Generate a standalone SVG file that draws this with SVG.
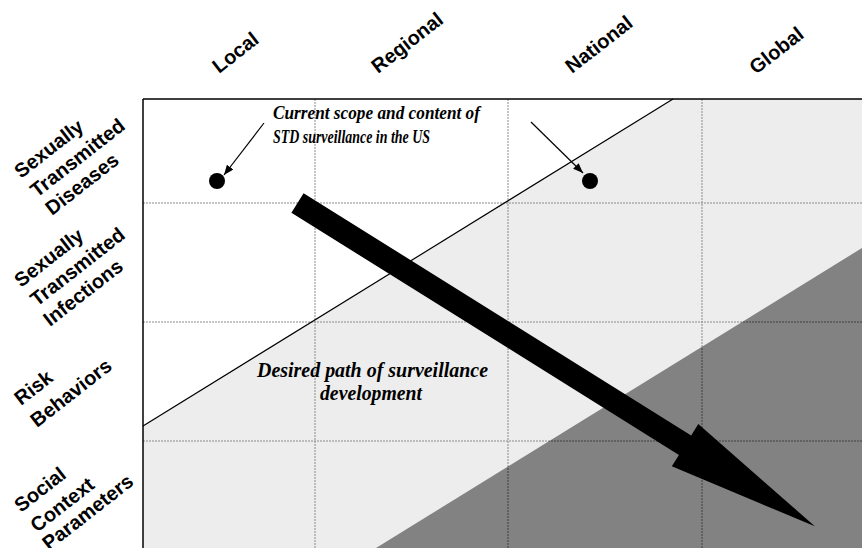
<svg xmlns="http://www.w3.org/2000/svg" width="862" height="548" viewBox="0 0 862 548">
<defs>
<style>
.ax{font-family:"Liberation Sans",Arial,sans-serif;font-weight:bold;font-size:20px;fill:#000}
.note{font-family:"Liberation Serif","Times New Roman",serif;font-weight:bold;font-style:italic;fill:#000}
.grid{stroke:#8a8a8a;stroke-width:1;stroke-dasharray:2 1;fill:none}
.gridd{stroke:#3a3a3a;stroke-width:1;stroke-dasharray:2 1;fill:none}
</style>
<clipPath id="darkclip"><polygon points="376,548 862,248 862,548"/></clipPath>
<marker id="ah" viewBox="0 0 10 8" refX="10" refY="4" markerWidth="10" markerHeight="8" markerUnits="userSpaceOnUse" orient="auto">
<path d="M0,0 L10,4 L0,8 Z" fill="#000"/>
</marker>
</defs>
<rect width="862" height="548" fill="#fff"/>
<g id="regions">
<polygon points="143,426 673,99 862,99 862,548 143,548" fill="#ededed"/>
<polygon points="376,548 862,248 862,548" fill="#828282"/>
</g>
<g id="gridlines">
<line class="grid" x1="143" y1="203" x2="862" y2="203"/>
<line class="grid" x1="143" y1="322" x2="862" y2="322"/>
<line class="grid" x1="143" y1="441" x2="862" y2="441"/>
<line class="grid" x1="315" y1="99" x2="315" y2="548"/>
<line class="grid" x1="508" y1="99" x2="508" y2="548"/>
<line class="grid" x1="702" y1="99" x2="702" y2="548"/>
<g clip-path="url(#darkclip)">
<line class="gridd" x1="143" y1="322" x2="862" y2="322"/>
<line class="gridd" x1="143" y1="441" x2="862" y2="441"/>
<line class="gridd" x1="508" y1="99" x2="508" y2="548"/>
<line class="gridd" x1="702" y1="99" x2="702" y2="548"/>
</g>
</g>
<g id="frame" stroke="#000" stroke-width="1.5" fill="none">
<line x1="143" y1="99" x2="862" y2="99"/>
<line x1="143" y1="99" x2="143" y2="548"/>
</g>
<g id="boundary">
<line x1="143" y1="426" x2="673" y2="99" stroke="#000" stroke-width="1.2"/>
</g>
<g id="connectors">
<line x1="264" y1="123" x2="224" y2="175" stroke="#000" stroke-width="1.2" marker-end="url(#ah)"/>
<line x1="531" y1="122" x2="583" y2="173" stroke="#000" stroke-width="1.2" marker-end="url(#ah)"/>
</g>
<g id="path-arrow">
<polygon transform="translate(297.5,203) rotate(32)" points="0,-11.5 457,-11.5 457,-25 610,0 457,25 457,11.5 0,11.5" fill="#000"/>
</g>
<g id="dot-local"><circle cx="217" cy="181" r="8" fill="#000"/></g>
<g id="dot-national"><circle cx="590" cy="181" r="8" fill="#000"/></g>
<g id="note-current">
<text class="note" x="273" y="119" font-size="18" textLength="207" lengthAdjust="spacingAndGlyphs">Current scope and content of</text>
<text class="note" x="273" y="143" font-size="18" textLength="157" lengthAdjust="spacingAndGlyphs">STD surveillance in the US</text>
</g>
<g id="note-desired">
<text class="note" x="257" y="377" font-size="20" textLength="231" lengthAdjust="spacingAndGlyphs">Desired path of surveillance</text>
<text class="note" x="320" y="400" font-size="20" textLength="102" lengthAdjust="spacingAndGlyphs">development</text>
</g>
<g id="col-local"><text class="ax" transform="translate(219,74) rotate(-38)">Local</text></g>
<g id="col-regional"><text class="ax" transform="translate(378,74) rotate(-38)">Regional</text></g>
<g id="col-national"><text class="ax" transform="translate(572,74) rotate(-38)">National</text></g>
<g id="col-global"><text class="ax" transform="translate(756,75) rotate(-38)">Global</text></g>
<g id="row-std">
<text class="ax" transform="translate(21,179) rotate(-38)">Sexually</text>
<text class="ax" transform="translate(37,198) rotate(-38)">Transmitted</text>
<text class="ax" transform="translate(52,216) rotate(-38)">Diseases</text>
</g>
<g id="row-sti">
<text class="ax" transform="translate(21,288) rotate(-38)">Sexually</text>
<text class="ax" transform="translate(37,307) rotate(-38)">Transmitted</text>
<text class="ax" transform="translate(50,327) rotate(-38)">Infections</text>
</g>
<g id="row-risk">
<text class="ax" transform="translate(21,406) rotate(-38)">Risk</text>
<text class="ax" transform="translate(37,428) rotate(-38)">Behaviors</text>
</g>
<g id="row-social">
<text class="ax" transform="translate(21,513) rotate(-38)">Social</text>
<text class="ax" transform="translate(37,533) rotate(-38)">Context</text>
<text class="ax" transform="translate(49,551) rotate(-38)">Parameters</text>
</g>
</svg>
